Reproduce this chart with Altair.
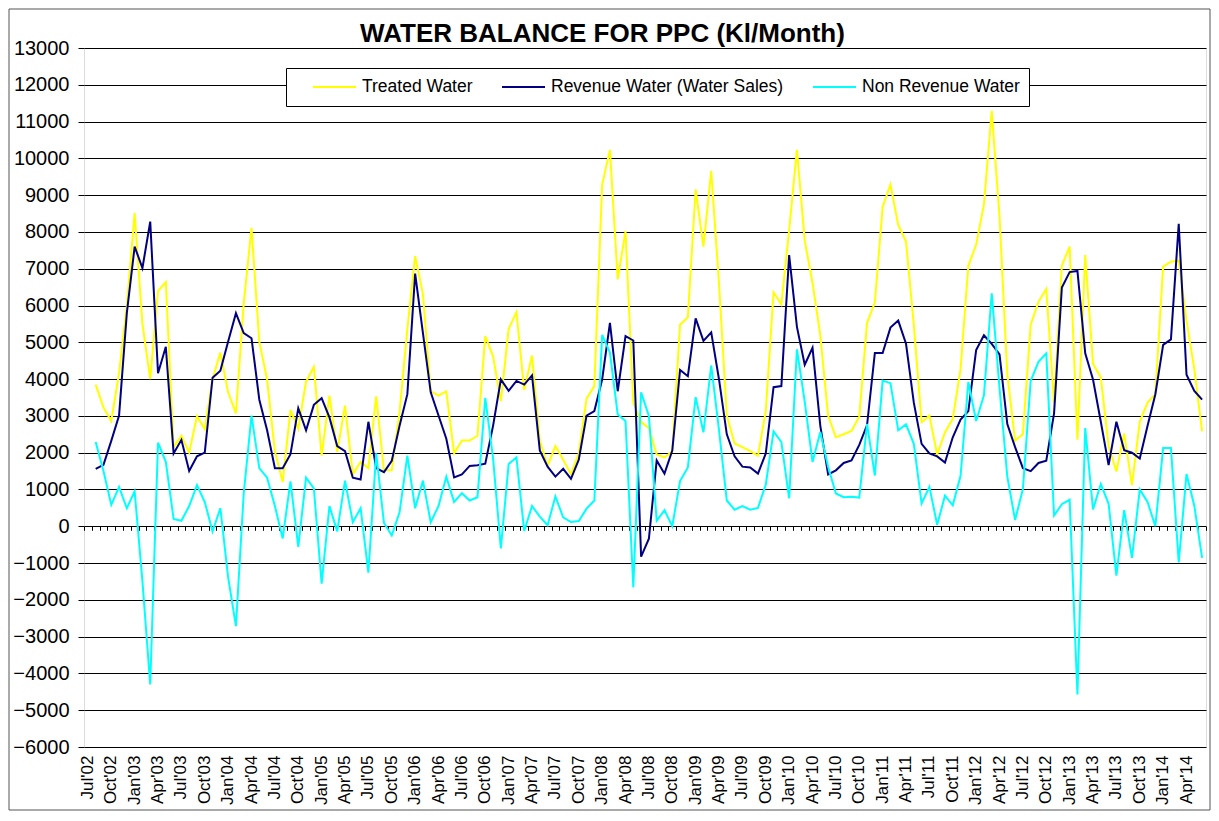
import altair as alt
import pandas as pd

FONT = "Liberation Sans, Arial, sans-serif"

# Category axis: Jul'02 .. Jun'14 (first slot has no data in the source chart)
month_names = ["Jul", "Aug", "Sep", "Oct", "Nov", "Dec", "Jan", "Feb", "Mar", "Apr", "May", "Jun"]
months = []
for k in range(144):
    m = month_names[k % 12]
    yr = 2 + (k + 6) // 12
    months.append(f"{m}'{yr:02d}")
label_months = months[::3]          # Jul'02, Oct'02, Jan'03, ... Apr'14
data_months = months[1:]            # Aug'02 .. Jun'14

series_names = ["Treated Water", "Revenue Water (Water Sales)", "Non Revenue Water"]
series_colors = ["#FFFF00", "#000080", "#00FFFF"]

treated = [3850, 3230, 2860, 4160, 6000, 8510, 5500, 4000, 6390, 6640,
           2150, 2460, 2000, 2990, 2640, 4000, 4720, 3640, 3070, 6050,
           8110, 5020, 3990, 2040, 1200, 3160, 2650, 3930, 4330, 1920,
           3550, 2020, 3280, 1410, 1750, 1580, 3530, 1520, 1520, 3100,
           5360, 7340, 6310, 3670, 3550, 3670, 1980, 2330, 2330, 2460,
           5170, 4620, 3400, 5360, 5820, 3700, 4640, 2330, 1640, 2180,
           1810, 1410, 1980, 3470, 3810, 9280, 10230, 6710, 8020, 3360,
           2830, 2670, 1950, 1870, 2040, 5480, 5680, 9160, 7600, 9660,
           6600, 3010, 2250, 2150, 2040, 1920, 3130, 6360, 6030, 8050,
           10230, 7770, 6620, 5190, 3010, 2420, 2500, 2590, 2980, 5530,
           6080, 8680, 9290, 8190, 7740, 5475, 2830, 3010, 1950, 2550,
           2920, 4270, 7080, 7650, 8740, 11290, 8430, 4130, 2330, 2500,
           5480, 6100, 6450, 3360, 7080, 7600, 2350, 7370, 4420, 4040,
           2180, 1490, 2520, 1120, 2840, 3360, 3590, 7060, 7190, 7220,
           5590, 4270, 2580]

revenue = [1560, 1670, 2320, 3010, 5800, 7600, 7020, 8280, 4160, 4880,
           1980, 2350, 1500, 1900, 2000, 4040, 4230, 5020, 5790, 5250,
           5110, 3440, 2610, 1580, 1580, 1960, 3210, 2610, 3300, 3480,
           2960, 2180, 2040, 1320, 1270, 2840, 1580, 1470, 1780, 2730,
           3590, 6870, 5250, 3640, 3010, 2380, 1330, 1410, 1640, 1660,
           1700, 2730, 3990, 3680, 3950, 3850, 4100, 2060, 1620, 1350,
           1560, 1290, 1810, 3010, 3130, 3990, 5530, 3670, 5170, 5050,
           -825, -340, 1790, 1430, 2060, 4250, 4080, 5650, 5040, 5270,
           3990, 2500, 1900, 1620, 1600, 1430, 1980, 3780, 3810, 7370,
           5420, 4390, 4850, 2730, 1410, 1520, 1720, 1790, 2210, 2750,
           4710, 4710, 5400, 5590, 4960, 3360, 2240, 1980, 1900, 1730,
           2420, 2900, 3130, 4790, 5190, 4960, 4670, 2780, 2150, 1580,
           1500, 1720, 1780, 3070, 6490, 6910, 6940, 4700, 3990, 2840,
           1660, 2840, 2070, 2000, 1840, 2730, 3590, 4930, 5080, 8220,
           4120, 3680, 3440]

non_revenue = [2290, 1500, 580, 1070, 490, 950, -1500, -4300, 2270, 1750,
               200, 150, 550, 1120, 660, -140, 490, -1390, -2715, 890,
               3010, 1580, 1320, 550, -330, 1220, -560, 1320, 1030, -1560,
               550, -140, 1240, 110, 490, -1260, 1980, 90, -250, 380,
               1920, 490, 1240, 110, 550, 1350, 660, 900, 700, 790,
               3490, 1850, -600, 1690, 1870, -130, 550, 260, 30, 810,
               240, 115, 140, 480, 700, 5200, 4720, 3040, 2860, -1660,
               3640, 3000, 150, 440, 0, 1230, 1600, 3510, 2555, 4370,
               2610, 700, 450, 550, 450, 500, 1130, 2580, 2290, 760,
               4810, 3390, 1750, 2560, 1620, 890, 790, 800, 780, 2780,
               1380, 3960, 3890, 2610, 2770, 2240, 620, 1070, 40, 830,
               570, 1370, 3920, 2860, 3560, 6330, 3760, 1350, 170, 1010,
               3950, 4470, 4700, 290, 600, 720, -4570, 2670, 460, 1150,
               610, -1340, 440, -860, 1000, 660, 0, 2130, 2130, -980,
               1420, 560, -860]

y_ticks = list(range(-6000, 13001, 1000))

frames = []
for name, vals in zip(series_names, [treated, revenue, non_revenue]):
    frames.append(pd.DataFrame({"month": data_months, "series": name, "value": vals}))
df = pd.concat(frames, ignore_index=True)
months_df = pd.DataFrame({"month": months})

W, H = 1122, 699

x_scale = alt.Scale(type="band", domain=months, paddingInner=0, paddingOuter=0)

lines = alt.Chart(df).mark_line(strokeWidth=2).encode(
    x=alt.X("month:N", scale=x_scale, sort=months, bandPosition=0.5, title=None,
            axis=alt.Axis(orient="bottom", values=label_months, labelAngle=270,
                          labelFontSize=17, labelFont=FONT, labelColor="black",
                          labelPadding=8, ticks=False, domain=False, grid=False,
                          labelOverlap=False)),
    y=alt.Y("value:Q", title=None,
            scale=alt.Scale(domain=[-6000, 13000], nice=False, zero=False),
            axis=alt.Axis(values=y_ticks, format="d", grid=True, gridColor="black",
                          gridWidth=1, gridOpacity=1, tickColor="black", tickSize=6,
                          labelFontSize=20, labelFont=FONT, labelColor="black",
                          labelPadding=9, domain=False)),
    color=alt.Color("series:N", sort=series_names,
                    scale=alt.Scale(domain=series_names, range=series_colors),
                    legend=alt.Legend(orient="none", legendX=202, legendY=20,
                                      direction="horizontal", title=None,
                                      symbolType="stroke", symbolSize=1849,
                                      symbolStrokeWidth=2, labelFontSize=17.5,
                                      labelFont=FONT, labelColor="black",
                                      fillColor="white", strokeColor="black",
                                      padding=9, columnPadding=11, clipHeight=20,
                                      symbolOffset=17, labelOffset=5,
                                      labelLimit=400)),
    order=alt.Order("series_order:Q"),
).transform_calculate(
    series_order="indexof(['Treated Water','Revenue Water (Water Sales)','Non Revenue Water'], datum.series)"
)

# category tick marks sitting on the zero line
zero_ticks = alt.Chart(months_df).mark_point(opacity=0).encode(
    x=alt.X("month:N", scale=x_scale, sort=months, title=None,
            axis=alt.Axis(orient="top", offset=-(478.3 + 4), tickBand="extent",
                          ticks=True, tickSize=4, tickColor="black", tickWidth=1,
                          labels=False, domain=False, grid=False))
)

frame = alt.Chart(alt.Data(values=[{}])).mark_rect(
    filled=False, stroke="#555555", strokeWidth=1
).encode(
    x=alt.value(-75), x2=alt.value(W + 4), y=alt.value(-39), y2=alt.value(H + 63)
)

chart = alt.layer(lines, zero_ticks, frame).resolve_axis(x="independent").properties(
    width=W, height=H,
    title=alt.TitleParams("WATER BALANCE FOR PPC (Kl/Month)", fontSize=26,
                          fontWeight="bold", font=FONT, color="black",
                          anchor="middle", frame="bounds", dx=-7,
                          offset=0, baseline="alphabetic", dy=59.5),
    autosize=alt.AutoSizeParams(type="none"),
    padding={"left": 76, "top": 40, "right": 5, "bottom": 66},
).configure_view(
    fill="#C0C0C0", stroke="#808080", strokeWidth=1
).configure(background="white")

chart.save("out.html", embed_options={"renderer": "svg", "actions": False})
